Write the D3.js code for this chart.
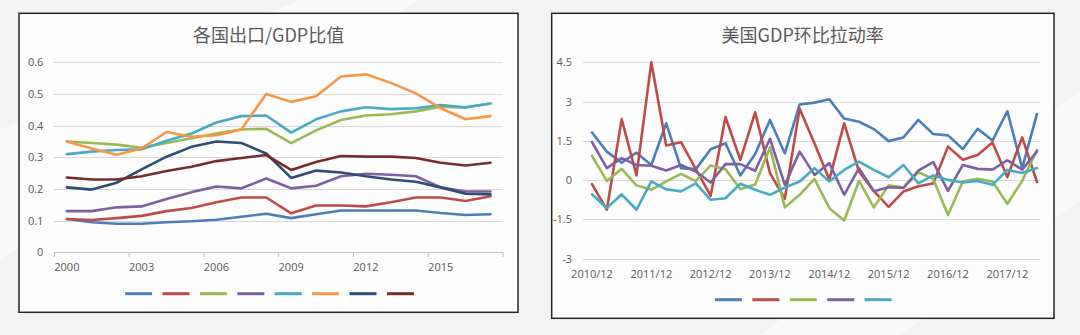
<!DOCTYPE html>
<html>
<head>
<meta charset="utf-8">
<script src="https://cdn.jsdelivr.net/npm/d3@7"></script>
<style>
  html, body { margin: 0; padding: 0; background: #f3f3f3; }
  svg { display: block; }
  text { font-family: "Open Sans", "Noto Sans", sans-serif; fill: #595959; }
  .chart-title { font-family: "Noto Sans CJK SC", sans-serif; font-size: 18px; fill: #595959; }
  .tick-label { font-size: 11px; }
  .grid { stroke: #d9d9d9; stroke-width: 1; shape-rendering: crispEdges; }
  .frame { fill: #fdfdfd; stroke: #262626; stroke-width: 1.5; }
  .series { fill: none; stroke-width: 2.6; stroke-linejoin: round; stroke-linecap: round; }
</style>
</head>
<body>
<script>
'use strict';

// ---- data: 各国出口/GDP比值 (yearly) ----
var years = ['2000', '2001', '2002', '2003', '2004', '2005', '2006', '2007', '2008',
    '2009', '2010', '2011', '2012', '2013', '2014', '2015', '2016', '2017'];
var yearTickLabels = ['2000', '2003', '2006', '2009', '2012', '2015'];
var exportTicks = [0, 0.1, 0.2, 0.3, 0.4, 0.5, 0.6];

var export1 = [0.105, 0.095, 0.09, 0.09, 0.095, 0.098, 0.103, 0.112, 0.122, 0.108,
    0.12, 0.132, 0.132, 0.132, 0.132, 0.124, 0.118, 0.12];
var export2 = [0.105, 0.102, 0.108, 0.115, 0.13, 0.14, 0.158, 0.173, 0.173, 0.123,
    0.148, 0.148, 0.145, 0.158, 0.173, 0.173, 0.162, 0.177];
var export3 = [0.35, 0.345, 0.34, 0.33, 0.345, 0.36, 0.375, 0.388, 0.39, 0.345,
    0.385, 0.418, 0.432, 0.436, 0.445, 0.46, 0.457, 0.47];
var export4 = [0.13, 0.13, 0.142, 0.145, 0.168, 0.19, 0.208, 0.202, 0.233, 0.202,
    0.21, 0.24, 0.248, 0.245, 0.24, 0.205, 0.192, 0.192];
var export5 = [0.31, 0.318, 0.323, 0.325, 0.352, 0.375, 0.41, 0.43, 0.432, 0.378,
    0.42, 0.445, 0.458, 0.452, 0.455, 0.465, 0.458, 0.47];
var export6 = [0.35, 0.328, 0.308, 0.328, 0.38, 0.365, 0.37, 0.388, 0.5, 0.475,
    0.493, 0.555, 0.562, 0.535, 0.502, 0.455, 0.42, 0.43];
var export7 = [0.205, 0.198, 0.22, 0.262, 0.302, 0.333, 0.35, 0.345, 0.312, 0.235,
    0.258, 0.252, 0.24, 0.23, 0.223, 0.205, 0.185, 0.183];
var export8 = [0.236, 0.23, 0.23, 0.24, 0.257, 0.27, 0.288, 0.298, 0.307, 0.26,
    0.285, 0.304, 0.302, 0.302, 0.298, 0.283, 0.274, 0.283];

// ---- data: 美国GDP环比拉动率 (quarterly) ----
var quarters = ['2010/12',
    '2011/03', '2011/06', '2011/09', '2011/12',
    '2012/03', '2012/06', '2012/09', '2012/12',
    '2013/03', '2013/06', '2013/09', '2013/12',
    '2014/03', '2014/06', '2014/09', '2014/12',
    '2015/03', '2015/06', '2015/09', '2015/12',
    '2016/03', '2016/06', '2016/09', '2016/12',
    '2017/03', '2017/06', '2017/09', '2017/12',
    '2018/03', '2018/06'];
var quarterTickLabels = ['2010/12', '2011/12', '2012/12', '2013/12',
    '2014/12', '2015/12', '2016/12', '2017/12'];
var gdpTicks = [-3, -1.5, 0, 1.5, 3, 4.5];

var gdp1 = [1.82, 1.09, 0.67, 1.05, 0.58, 2.17, 0.46, 0.42, 1.18, 1.41,
    0.18, 1.0, 2.3, 1.02, 2.89, 2.96, 3.09, 2.35, 2.23, 1.95,
    1.49, 1.63, 2.3, 1.76, 1.71, 1.19, 1.96, 1.51, 2.63, 0.46, 2.53];
var gdp2 = [-0.15, -1.13, 2.33, 0.18, 4.5, 1.32, 1.45, 0.42, -0.6, 2.41,
    0.77, 2.59, 0.27, -0.71, 2.73, 1.4, 0.02, 2.17, 0.33, -0.42,
    -1.02, -0.43, -0.23, -0.13, 1.28, 0.78, 0.96, 1.44, 0.12, 1.63, -0.07];
var gdp3 = [0.93, -0.03, 0.43, -0.2, -0.37, -0.05, 0.24, -0.04, 0.56, 0.42,
    -0.35, -0.17, 1.25, -1.04, -0.56, 0.05, -1.07, -1.54, -0.03, -1.04,
    -0.2, -0.28, 0.3, 0.05, -1.33, -0.05, 0.05, -0.05, -0.9, -0.03, 1.15];
var gdp4 = [1.45, 0.46, 0.84, 0.58, 0.55, 0.37, 0.58, 0.33, -0.09, 0.61,
    0.61, 0.36, 1.58, -0.18, 1.09, 0.2, 0.65, -0.56, 0.46, -0.42,
    -0.27, -0.3, 0.36, 0.69, -0.41, 0.58, 0.43, 0.4, 0.76, 0.4, 1.1];
var gdp5 = [-0.54, -1.07, -0.54, -1.13, -0.05, -0.35, -0.43, -0.12, -0.75, -0.69,
    -0.14, -0.37, -0.56, -0.28, -0.05, 0.46, -0.05, 0.39, 0.71, 0.39,
    0.11, 0.58, -0.12, 0.18, 0.01, -0.09, -0.03, -0.18, 0.39, 0.27, 0.46];

// Office palette used by the source workbook
var COLORS = ['#4a7ebb', '#be4b48', '#98b954', '#7d60a0', '#46aac5',
    '#f79646', '#2c4d75', '#772c2a'];


var svg = d3.select('body').append('svg')
    .attr('width', 1080)
    .attr('height', 335);

// faint diagonal sheen in the page background
svg.append('path')
    .attr('d', 'M0,130 L300,0 L420,0 L0,260 Z')
    .attr('fill', '#ffffff')
    .attr('opacity', 0.5);
svg.append('path')
    .attr('d', 'M760,335 L1080,90 L1080,200 L900,335 Z')
    .attr('fill', '#ffffff')
    .attr('opacity', 0.5);


/**
 * Draw the frame, title, grid and legend swatches of one panel.
 * Returns the group that the plot is drawn into.
 */
var drawPanel = function (options) {
  var panel,
      legend,
      legendWidth,
      legendX;

  panel = svg.append('g');

  panel.append('rect')
      .attr('class', 'frame')
      .attr('x', options.left)
      .attr('y', options.top)
      .attr('width', options.right - options.left)
      .attr('height', options.bottom - options.top);

  panel.append('text')
      .attr('class', 'chart-title')
      .attr('text-anchor', 'middle')
      .attr('x', options.titleX)
      .attr('y', 42)
      .text(options.title);

  // value axis: gridlines and labels
  panel.selectAll('line.grid')
      .data(options.ticks)
      .enter().append('line')
      .attr('class', 'grid')
      .attr('x1', options.gridLeft)
      .attr('x2', options.gridRight)
      .attr('y1', function (d) { return Math.round(options.y(d)) + 0.5; })
      .attr('y2', function (d) { return Math.round(options.y(d)) + 0.5; });

  panel.selectAll('text.y-label')
      .data(options.ticks)
      .enter().append('text')
      .attr('class', 'tick-label y-label')
      .attr('text-anchor', 'end')
      .attr('x', options.gridLeft - 11)
      .attr('y', function (d) { return options.y(d) + 4; })
      .text(options.format);

  // legend has swatches only, the series have no names
  legendWidth = options.colors.length * 37.4 - 10.4;
  legendX = options.legendCenter - legendWidth / 2;
  legend = panel.append('g');
  legend.selectAll('line')
      .data(options.colors)
      .enter().append('line')
      .attr('x1', function (d, i) { return legendX + i * 37.4; })
      .attr('x2', function (d, i) { return legendX + i * 37.4 + 27; })
      .attr('y1', options.legendY)
      .attr('y2', options.legendY)
      .attr('stroke', function (d) { return d; })
      .attr('stroke-width', 3);

  return panel;
};


// ---- left panel: 各国出口/GDP比值 ----
(function () {
  var panel,
      x,
      y,
      line,
      series,
      tickYears;

  series = [export1, export2, export3, export4, export5, export6, export7, export8];

  x = d3.scaleBand()
      .domain(years)
      .range([54.4, 503]);
  y = d3.scaleLinear()
      .domain([0, 0.6])
      .range([252.3, 62.3]);

  panel = drawPanel({
    left: 19, right: 518, top: 13.3, bottom: 312.3,
    title: '各国出口/GDP比值', titleX: 268.6,
    ticks: exportTicks, y: y,
    gridLeft: 54.4, gridRight: 503,
    format: function (d) { return d === 0 ? '0' : d3.format('.1f')(d); },
    colors: COLORS, legendCenter: 269.5, legendY: 293.7
  });

  // category axis: baseline, tick marks every 3 years, labels
  panel.append('line')
      .attr('x1', 54.4)
      .attr('x2', 503)
      .attr('y1', 252.5)
      .attr('y2', 252.5)
      .attr('stroke', '#bfbfbf');

  tickYears = years.filter(function (d, i) { return i % 3 === 0; });
  panel.selectAll('line.x-tick')
      .data(tickYears.concat(['end']))
      .enter().append('line')
      .attr('class', 'x-tick')
      .attr('x1', function (d) { return d === 'end' ? x.range()[1] : x(d); })
      .attr('x2', function (d) { return d === 'end' ? x.range()[1] : x(d); })
      .attr('y1', 252.5)
      .attr('y2', 257)
      .attr('stroke', '#bfbfbf');

  panel.selectAll('text.x-label')
      .data(yearTickLabels)
      .enter().append('text')
      .attr('class', 'tick-label x-label')
      .attr('text-anchor', 'middle')
      .attr('x', function (d) { return x(d) + x.bandwidth() / 2; })
      .attr('y', 271)
      .text(function (d) { return d; });

  line = d3.line()
      .x(function (d, i) { return x(years[i]) + x.bandwidth() / 2; })
      .y(function (d) { return y(d); });

  panel.selectAll('path.series')
      .data(series)
      .enter().append('path')
      .attr('class', 'series')
      .attr('stroke', function (d, i) { return COLORS[i]; })
      .attr('d', line);
}());


// ---- right panel: 美国GDP环比拉动率 ----
(function () {
  var panel,
      x,
      y,
      line,
      series,
      colors;

  series = [gdp1, gdp2, gdp3, gdp4, gdp5];
  colors = COLORS.slice(0, series.length);

  x = d3.scalePoint()
      .domain(quarters)
      .range([592, 1037]);
  y = d3.scaleLinear()
      .domain([-3, 4.5])
      .range([258.7, 62.3]);

  panel = drawPanel({
    left: 551.7, right: 1054, top: 13.3, bottom: 318.3,
    title: '美国GDP环比拉动率', titleX: 802.7,
    ticks: gdpTicks, y: y,
    gridLeft: 583, gridRight: 1040,
    format: function (d) { return String(d); },
    colors: colors, legendCenter: 803.3, legendY: 299.7
  });

  panel.selectAll('text.x-label')
      .data(quarterTickLabels)
      .enter().append('text')
      .attr('class', 'tick-label x-label')
      .attr('text-anchor', 'middle')
      .attr('x', function (d) { return x(d); })
      .attr('y', 278)
      .text(function (d) { return d; });

  line = d3.line()
      .x(function (d, i) { return x(quarters[i]); })
      .y(function (d) { return y(d); });

  panel.selectAll('path.series')
      .data(series)
      .enter().append('path')
      .attr('class', 'series')
      .attr('stroke', function (d, i) { return colors[i]; })
      .attr('d', line);
}());
</script>
</body>
</html>
